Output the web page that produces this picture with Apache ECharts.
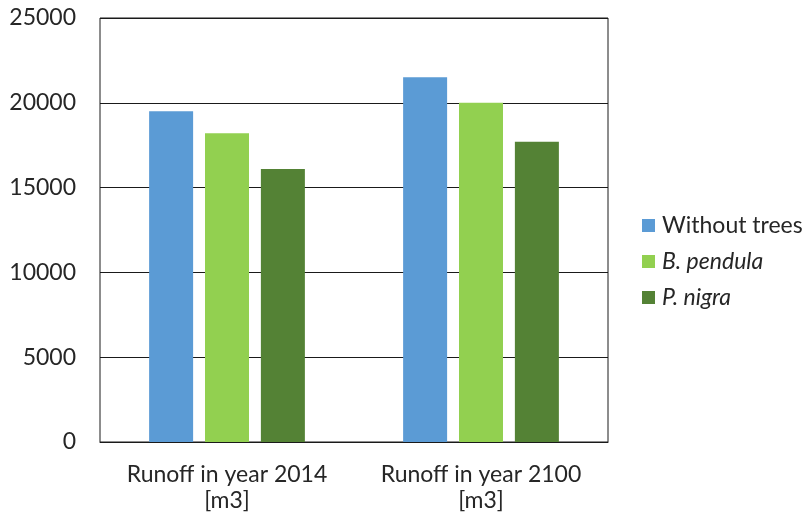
<!DOCTYPE html>
<html>
<head>
<meta charset="utf-8">
<script src="https://cdn.jsdelivr.net/npm/echarts@6/dist/echarts.min.js"></script>
<style>
  html, body { margin: 0; padding: 0; background: #fff; }
  #chart { width: 803px; height: 519px; }
</style>
</head>
<body>
<div id="chart"></div>
<script>
// Runoff volumes [m3] per scenario
const categories = ['Runoff in year 2014\n[m3]', 'Runoff in year 2100\n[m3]'];
const seriesNames = ['Without trees', 'B. pendula', 'P. nigra'];
const withoutTrees = [19500, 21500];
const bPendula = [18200, 20000];
const pNigra = [16100, 17700];
const yTicks = { min: 0, max: 25000, interval: 5000 };

const colors = ['#5B9BD5', '#92D050', '#548235'];
const italicNames = ['B. pendula', 'P. nigra'];
const fontFamily = 'Lato, "Open Sans", sans-serif';

const chart = echarts.init(document.getElementById('chart'), null, { renderer: 'canvas' });

const values = [withoutTrees, bPendula, pNigra];

chart.setOption({
  animation: false,
  color: colors,
  textStyle: { fontFamily: fontFamily },
  grid: {
    left: 100, right: 195, top: 18, bottom: 77,
    show: true, borderColor: '#1a1a1a', borderWidth: 1
  },
  legend: {
    orient: 'vertical',
    left: 637, top: 209,
    itemWidth: 13, itemHeight: 13, itemGap: 13,
    icon: 'rect',
    data: seriesNames,
    formatter: name => italicNames.includes(name) ? '{i|' + name + '}' : '{n|' + name + '}',
    textStyle: {
      color: '#262626', fontSize: 23, fontFamily: fontFamily, padding: [0, 0, 0, 2],
      rich: {
        n: { fontSize: 23, color: '#262626', fontFamily: fontFamily, lineHeight: 26 },
        i: { fontSize: 23, color: '#262626', fontFamily: fontFamily, fontStyle: 'italic', lineHeight: 26 }
      }
    }
  },
  xAxis: {
    type: 'category',
    data: categories,
    axisLine: { show: true, lineStyle: { color: '#1a1a1a', width: 1 } },
    axisTick: { show: false },
    axisLabel: {
      interval: 0,
      color: '#262626', fontSize: 23, fontFamily: fontFamily,
      lineHeight: 26, margin: 20
    }
  },
  yAxis: {
    type: 'value',
    min: yTicks.min, max: yTicks.max, interval: yTicks.interval,
    axisLine: { show: false },
    axisTick: { show: false },
    splitLine: { show: true, lineStyle: { color: '#1a1a1a', width: 1 } },
    axisLabel: {
      color: '#262626', fontSize: 23, fontFamily: fontFamily, margin: 24,
      formatter: v => String(v)
    }
  },
  series: seriesNames.map((name, i) => ({
    name: name,
    type: 'bar',
    data: values[i],
    barWidth: 44,
    barGap: '27%',
    itemStyle: { color: colors[i] }
  }))
});
</script>
</body>
</html>
